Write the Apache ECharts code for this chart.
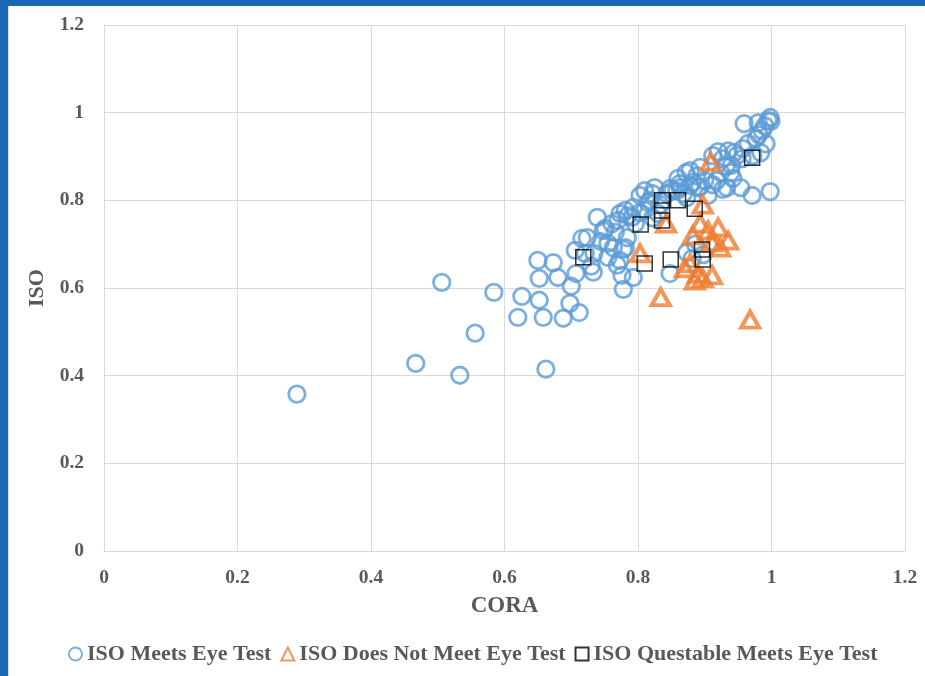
<!DOCTYPE html>
<html>
<head>
<meta charset="utf-8">
<script src="https://cdn.jsdelivr.net/npm/echarts@6/dist/echarts.min.js"></script>
<style>
  html, body { margin: 0; padding: 0; background: #ffffff; }
  body { width: 925px; height: 676px; position: relative; overflow: hidden; }
  .frame-left { position: absolute; left: 0; top: 0; width: 8px; height: 676px; background: #1a67b5; }
  .frame-top { position: absolute; left: 0; top: 0; width: 925px; height: 6px; background: #1a67b5; }
  .frame-edge { position: absolute; left: 8px; top: 6px; width: 1px; height: 670px; background: #d9d9d9; }
  #chart { position: absolute; left: 9px; top: 6px; width: 916px; height: 670px; }
</style>
</head>
<body>
<div class="frame-left"></div>
<div class="frame-top"></div>
<div class="frame-edge"></div>
<div id="chart"></div>
<script>
// [CORA, ISO] pairs for each eye-test outcome
const meetsEyeTest = [
  [0.289, 0.358], [0.467, 0.428], [0.506, 0.613], [0.533, 0.401], [0.556, 0.497],
  [0.584, 0.590], [0.620, 0.533], [0.626, 0.581], [0.652, 0.622], [0.650, 0.663],
  [0.673, 0.658], [0.680, 0.624], [0.700, 0.604], [0.652, 0.572], [0.658, 0.533],
  [0.688, 0.531], [0.712, 0.544], [0.698, 0.565], [0.662, 0.415], [0.707, 0.633],
  [0.733, 0.636], [0.721, 0.679], [0.734, 0.679], [0.716, 0.713], [0.724, 0.715],
  [0.739, 0.761], [0.748, 0.731], [0.755, 0.702], [0.778, 0.688], [0.769, 0.652],
  [0.776, 0.629], [0.778, 0.597], [0.793, 0.624], [0.781, 0.777], [0.793, 0.784],
  [0.803, 0.811], [0.773, 0.770], [0.785, 0.765], [0.791, 0.761], [0.803, 0.772],
  [0.810, 0.777], [0.770, 0.754], [0.761, 0.747], [0.766, 0.727], [0.784, 0.715],
  [0.781, 0.692], [0.763, 0.692], [0.773, 0.663], [0.755, 0.670], [0.818, 0.800],
  [0.822, 0.815], [0.843, 0.815], [0.852, 0.822], [0.863, 0.838], [0.872, 0.863],
  [0.878, 0.868], [0.888, 0.856], [0.893, 0.875], [0.882, 0.841], [0.893, 0.831],
  [0.873, 0.806], [0.858, 0.822], [0.830, 0.770], [0.833, 0.790], [0.905, 0.811],
  [0.912, 0.836], [0.927, 0.825], [0.918, 0.845], [0.942, 0.850], [0.954, 0.829],
  [0.971, 0.811], [0.998, 0.820], [0.924, 0.863], [0.939, 0.863], [0.932, 0.877],
  [0.927, 0.895], [0.920, 0.911], [0.935, 0.913], [0.944, 0.909], [0.956, 0.895],
  [0.972, 0.902], [0.984, 0.909], [0.992, 0.929], [0.977, 0.941], [0.981, 0.950],
  [0.986, 0.959], [0.990, 0.970], [0.995, 0.982], [0.998, 0.989], [0.999, 0.980],
  [0.959, 0.975], [0.980, 0.977], [0.873, 0.681], [0.881, 0.667], [0.848, 0.633],
  [0.751, 0.736], [0.706, 0.686], [0.825, 0.829], [0.810, 0.822], [0.848, 0.827],
  [0.863, 0.829], [0.878, 0.834], [0.890, 0.829], [0.933, 0.829], [0.957, 0.918],
  [0.948, 0.902], [0.912, 0.902], [0.868, 0.815], [0.900, 0.845], [0.815, 0.795],
  [0.796, 0.747], [0.822, 0.760], [0.886, 0.700], [0.898, 0.676], [0.860, 0.850],
  [0.940, 0.880], [0.965, 0.930], [0.744, 0.706], [0.730, 0.650]
];

const failsEyeTest = [
  [0.909, 0.888], [0.897, 0.790], [0.842, 0.747], [0.803, 0.679], [0.834, 0.579],
  [0.968, 0.528], [0.893, 0.747], [0.905, 0.731], [0.920, 0.738], [0.935, 0.708],
  [0.923, 0.692], [0.911, 0.704], [0.882, 0.720], [0.878, 0.656], [0.870, 0.645],
  [0.890, 0.633], [0.911, 0.629], [0.885, 0.617], [0.897, 0.622]
];

const questionableEyeTest = [
  [0.971, 0.897], [0.836, 0.800], [0.860, 0.800], [0.836, 0.777], [0.885, 0.781],
  [0.836, 0.754], [0.804, 0.745], [0.718, 0.670], [0.810, 0.656], [0.849, 0.665],
  [0.896, 0.688], [0.897, 0.665]
];

const seriesNames = [
  'ISO Meets Eye Test',
  'ISO Does Not Meet Eye Test',
  'ISO Questable Meets Eye Test'
];

const textColor = '#595959';
const gridColor = '#d9d9d9';
const serif = '"Liberation Serif", "Times New Roman", serif';

const chart = echarts.init(document.getElementById('chart'), null, { renderer: 'canvas' });

chart.setOption({
  animation: false,
  backgroundColor: '#ffffff',
  grid: { left: 95, top: 19, width: 801, height: 526, containLabel: false },
  xAxis: {
    type: 'value', min: 0, max: 1.2, interval: 0.2,
    name: 'CORA', nameLocation: 'middle', nameGap: 44,
    nameTextStyle: { color: textColor, fontFamily: serif, fontWeight: 'bold', fontSize: 23 },
    axisLine: { show: true, lineStyle: { color: gridColor, width: 1 } },
    axisTick: { show: false },
    axisLabel: { color: textColor, fontFamily: serif, fontWeight: 'bold', fontSize: 19.5, margin: 17,
      formatter: v => String(Math.round(v * 10) / 10) },
    splitLine: { show: true, lineStyle: { color: gridColor, width: 1 } }
  },
  yAxis: {
    type: 'value', min: 0, max: 1.2, interval: 0.2,
    name: 'ISO', nameLocation: 'middle', nameGap: 54, nameRotate: 90,
    nameTextStyle: { color: textColor, fontFamily: serif, fontWeight: 'bold', fontSize: 22 },
    axisLine: { show: true, lineStyle: { color: gridColor, width: 1 } },
    axisTick: { show: false },
    axisLabel: { color: textColor, fontFamily: serif, fontWeight: 'bold', fontSize: 19.5, margin: 20,
      formatter: v => String(Math.round(v * 10) / 10) },
    splitLine: { show: true, lineStyle: { color: gridColor, width: 1 } }
  },
  legend: {
    bottom: 6, left: 54,
    itemWidth: 13, itemHeight: 13, itemGap: 9,
    textStyle: { color: textColor, fontFamily: serif, fontWeight: 'bold', fontSize: 22 },
    data: seriesNames
  },
  series: [
    {
      name: seriesNames[0], type: 'scatter', data: meetsEyeTest,
      symbol: 'circle', symbolSize: 16.5,
      itemStyle: { color: 'rgba(0,0,0,0)', borderColor: '#5b9bd5', borderWidth: 2.8 },
      emphasis: { disabled: true }
    },
    {
      name: seriesNames[1], type: 'scatter', data: failsEyeTest,
      symbol: 'triangle', symbolSize: [18, 16],
      itemStyle: { color: 'rgba(0,0,0,0)', borderColor: '#ed7d31', borderWidth: 4 },
      emphasis: { disabled: true }
    },
    {
      name: seriesNames[2], type: 'scatter', data: questionableEyeTest,
      symbol: 'rect', symbolSize: 15,
      itemStyle: { color: 'rgba(0,0,0,0)', borderColor: '#000000', borderWidth: 1.5 },
      emphasis: { disabled: true }
    }
  ]
});
</script>
</body>
</html>
